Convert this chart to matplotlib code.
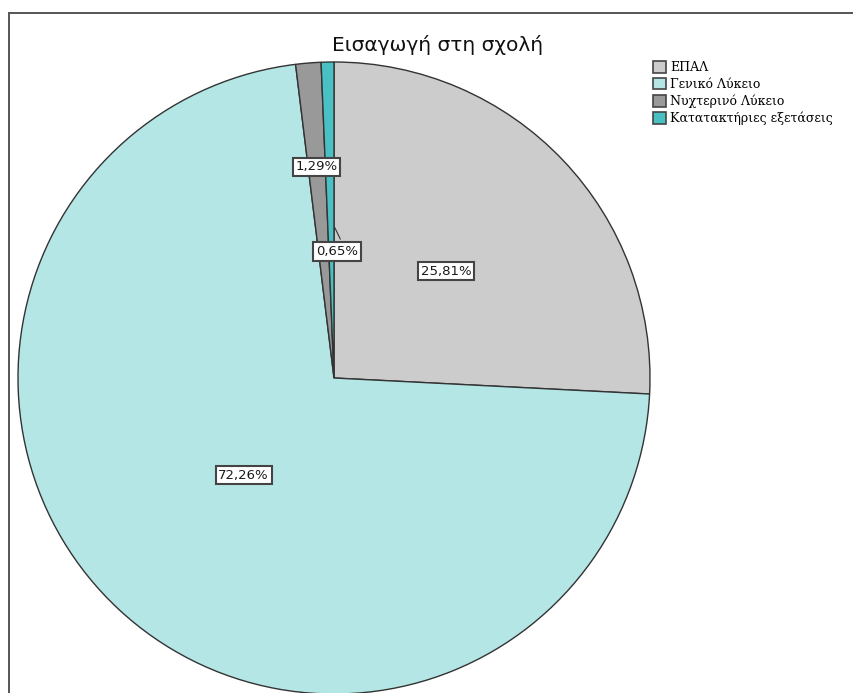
import numpy as np
import matplotlib.pyplot as plt
from matplotlib.patches import Rectangle

# Εισαγωγή στη σχολή - shares per route of entry
categories = ["ΕΠΑΛ", "Γενικό Λύκειο", "Νυχτερινό Λύκειο", "Κατατακτήριες εξετάσεις"]
percents = [25.81, 72.26, 1.29, 0.65]
colors = ["#cccccc", "#b4e6e6", "#999999", "#48c0c4"]
label_radius = [0.49, 0.42, 0.67, 0.40]
label_shift = [0.0, 0.0, 0.0, 0.018]

W, H = 854, 693
fig = plt.figure(figsize=(W / 100, H / 100), dpi=100)

# outer frame
fig.patches.append(Rectangle((8.5 / W, -0.05), 1.1, (H - 13.5) / H + 0.05,
                             transform=fig.transFigure, fill=False,
                             edgecolor="#555555", linewidth=1.4))

cx, cy, r = 334, 378, 316
ax = fig.add_axes([(cx - r) / W, (H - cy - r) / H, 2 * r / W, 2 * r / H])
wedges, _ = ax.pie(percents, colors=colors, startangle=90, counterclock=False,
                   radius=1.0, wedgeprops=dict(edgecolor="#333333", linewidth=1.0))
ax.set_xlim(-1, 1)
ax.set_ylim(-1, 1)
ax.set_aspect("equal")
ax.axis("off")

for w, p, lr, sh in zip(wedges, percents, label_radius, label_shift):
    mid = np.deg2rad((w.theta1 + w.theta2) / 2)
    x, y = lr * np.cos(mid) + sh, lr * np.sin(mid)
    txt = f"{p:.2f}%".replace(".", ",")
    ax.text(x, y, txt, ha="center", va="center", fontsize=9.5,
            family="DejaVu Sans", zorder=5, color="#1a1a1a",
            bbox=dict(boxstyle="square,pad=0.2", facecolor="white",
                      edgecolor="#444444", linewidth=1.5))
    if sh:
        ax.plot([0.003, x + 0.01], [y + 0.075, y + 0.04], color="#333333",
                linewidth=0.8, zorder=4)

fig.text(438 / W, 1 - 45 / H, "Εισαγωγή στη σχολή", ha="center", va="center",
         fontsize=14.5, family="DejaVu Sans", color="#111111")

leg = fig.legend(wedges, categories, loc="upper left",
                 bbox_to_anchor=(653 / W, 1 - 61 / H),
                 prop=dict(family="DejaVu Serif", size=9),
                 frameon=False, handlelength=1.05, handleheight=1.05,
                 handletextpad=0.35, labelspacing=0.3, borderpad=0,
                 borderaxespad=0)
for h in leg.legend_handles:
    h.set_edgecolor("#444444")
    h.set_linewidth(1.2)

fig.savefig("out.png", dpi=100)
